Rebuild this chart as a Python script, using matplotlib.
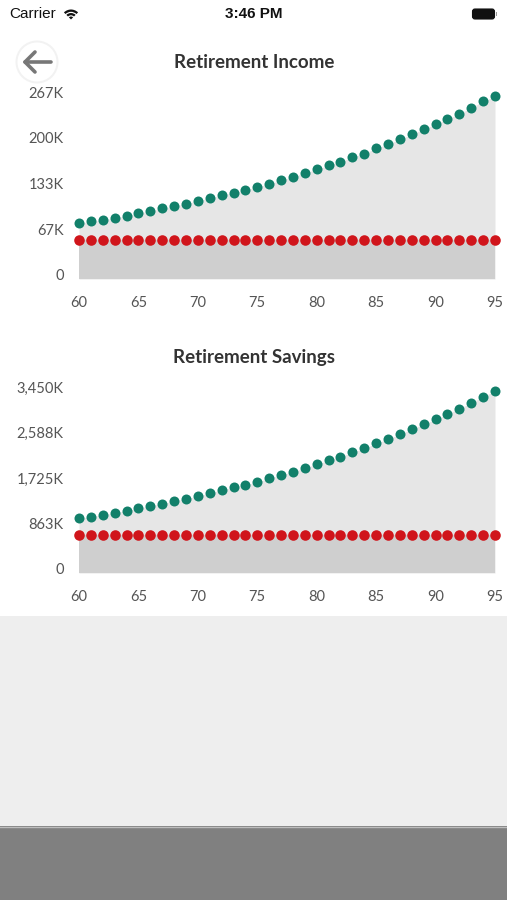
import matplotlib
matplotlib.use("Agg")
import matplotlib.pyplot as plt
from matplotlib.patches import Circle, FancyBboxPatch, Rectangle, Wedge
import matplotlib.transforms as mtransforms

plt.rcParams['font.family'] = ['Lato', 'DejaVu Sans']

# ages on the x axis
ages = list(range(60, 96))

# Retirement Income (thousands)
income_projected = [81, 84, 86, 89, 92, 96, 99, 103, 106, 110, 114, 118,
                    122, 126, 130, 134, 139, 144, 149, 155, 160, 166, 171, 178,
                    183, 191, 197, 204, 211, 219, 226, 234, 241, 250, 259, 267]
income_needed = [57, 57, 57, 57, 57, 57, 57, 57, 57, 57, 57, 57,
                 57, 57, 57, 57, 57, 57, 57, 57, 57, 57, 57, 57,
                 57, 57, 57, 57, 57, 57, 57, 57, 57, 57, 57, 57]
income_ticklabels = ["0", "67K", "133K", "200K", "267K"]

# Retirement Savings (thousands)
savings_projected = [1037, 1068, 1100, 1138, 1182, 1226, 1270, 1314, 1365, 1409,
                     1460, 1510, 1574, 1625, 1668, 1725, 1795, 1858, 1921, 1997,
                     2061, 2137, 2205, 2288, 2364, 2459, 2541, 2635, 2724, 2825,
                     2914, 3020, 3115, 3229, 3343, 3450]
savings_needed = [720, 720, 720, 720, 720, 720, 720, 720, 720, 720, 720, 720,
                  720, 720, 720, 720, 720, 720, 720, 720, 720, 720, 720, 720,
                  720, 720, 720, 720, 720, 720, 720, 720, 720, 720, 720, 720]
savings_ticklabels = ["0", "863K", "1,725K", "2,588K", "3,450K"]

xticks = [60, 65, 70, 75, 80, 85, 90, 95]

GREEN = "#12806a"
RED = "#d0151b"
W, H = 507, 900

fig = plt.figure(figsize=(W / 100, H / 100), dpi=100)

# background / phone chrome drawn in pixel coordinates (y grows downward)
bg = fig.add_axes([0, 0, 1, 1])
bg.set_xlim(0, W)
bg.set_ylim(H, 0)
bg.axis("off")
bg.add_patch(Rectangle((0, 616), W, 210, color="#eeeeee", lw=0))
bg.add_patch(Rectangle((0, 826), W, 74, color="#808080", lw=0))
bg.plot([0, W], [826.5, 826.5], color="#bdbdbd", lw=1)

# status bar
bg.text(9, 14, "Carrier", fontsize=11, color="#111111", va="center", ha="left",
        family=["Liberation Sans", "DejaVu Sans"])
for r, w in ((10, 2.3), (6.5, 2.3), (3, 3)):
    bg.add_patch(Wedge((71, 19.5), r, 225, 315, width=w, color="#111111", lw=0))
bg.text(254, 14, "3:46 PM", fontsize=11, color="#111111", va="center", ha="center",
        fontweight="bold", family=["Liberation Sans", "DejaVu Sans"])
bg.add_patch(FancyBboxPatch((473, 9.5), 21, 9, boxstyle="round,pad=0.5,rounding_size=2.5",
                            fc="#111111", ec="#111111", lw=0.8))
bg.add_patch(Rectangle((495.5, 12), 1.8, 4, color="#999999", lw=0))

# back button
bg.add_patch(Circle((37, 62), 21.5, color="#f2f2f2", lw=0))
bg.add_patch(Circle((37, 62), 19.5, color="white", lw=0))
bg.plot([25, 51], [62, 62], color="#777777", lw=2.6, solid_capstyle="round")
bg.plot([35, 25, 35], [52, 62, 72], color="#777777", lw=2.6,
        solid_capstyle="round", solid_joinstyle="round")

# titles
bg.text(254, 62, "Retirement Income", fontsize=13.5, fontweight="bold",
        color="#333333", ha="center", va="center")
bg.text(254, 357, "Retirement Savings", fontsize=13.5, fontweight="bold",
        color="#333333", ha="center", va="center")


def draw_chart(top_px, bottom_px, projected, needed, ticklabels):
    left_px, right_px = 79, 495
    ax = fig.add_axes([left_px / W, 1 - bottom_px / H,
                       (right_px - left_px) / W, (bottom_px - top_px) / H])
    ax.patch.set_alpha(0)
    ymax = max(projected)
    ax.fill_between(ages, 0, projected, color="#e6e6e6", lw=0, zorder=1)
    ax.fill_between(ages, 0, needed, color="#cfcfcf", lw=0, zorder=2)
    ax.plot(ages, needed, "o", color=RED, markersize=7.6, markeredgewidth=0,
            clip_on=False, zorder=3)
    ax.plot(ages, projected, "o", color=GREEN, markersize=7.2, markeredgewidth=0,
            clip_on=False, zorder=4)
    ax.set_xlim(ages[0], ages[-1])
    ax.set_ylim(0, ymax)
    ax.set_xticks(xticks)
    ax.set_xticklabels([str(t) for t in xticks])
    ax.set_yticks([ymax * q for q in (0, 0.25, 0.5, 0.75, 1)])
    ax.set_yticklabels(ticklabels)
    ax.tick_params(length=0, labelsize=10.5, labelcolor="#555555")
    ax.tick_params(axis="y", pad=11)
    ax.tick_params(axis="x", pad=12)
    for s in ax.spines.values():
        s.set_visible(False)
    shift = mtransforms.ScaledTranslation(0, 4 / 100, fig.dpi_scale_trans)
    for lbl in ax.get_yticklabels():
        lbl.set_transform(lbl.get_transform() + shift)
    return ax


draw_chart(96, 279, income_projected, income_needed, income_ticklabels)
draw_chart(391, 573, savings_projected, savings_needed, savings_ticklabels)

fig.savefig("out.png", dpi=100)
